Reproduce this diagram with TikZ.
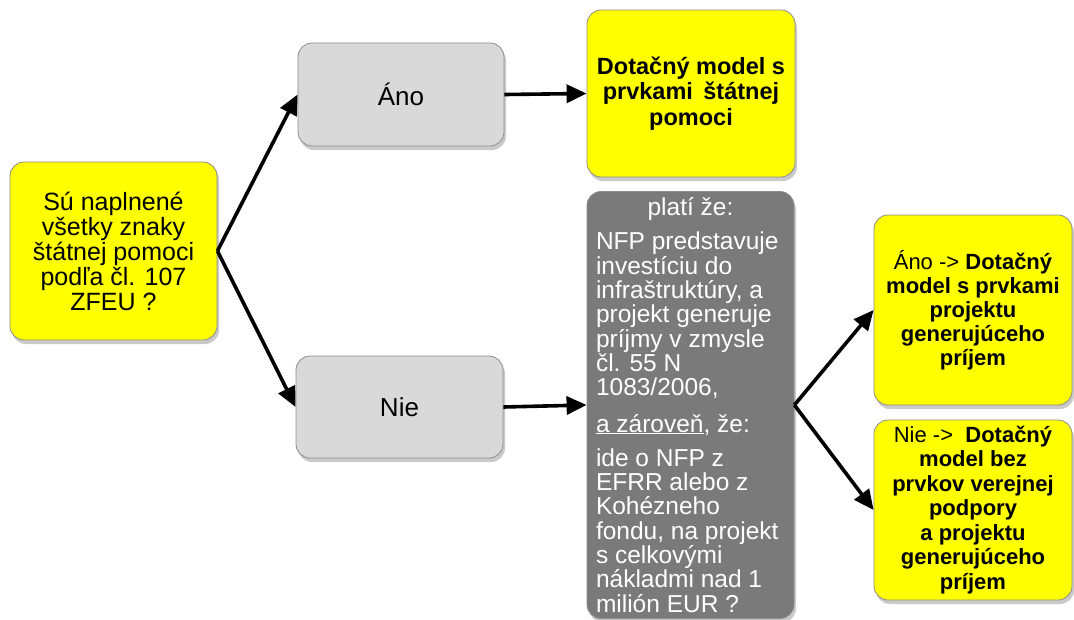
\documentclass[tikz,border=0pt]{standalone}
\usepackage{fontspec}
\setmainfont{Liberation Sans}
\usetikzlibrary{shadows,arrows.meta}
\definecolor{boxyellow}{HTML}{FFFF00}
\definecolor{boxlight}{HTML}{D9D9D9}
\definecolor{boxdark}{HTML}{7A7A7A}
\definecolor{boxedge}{HTML}{8C8C8C}
\begin{document}
\begin{tikzpicture}[x=1pt,y=-1pt,
  base/.style={draw=boxedge,line width=0.8pt,rounded corners=14pt,inner sep=2pt,
    align=center,font=\fontsize{22}{23}\selectfont,
    drop shadow={shadow xshift=2pt,shadow yshift=-4pt,opacity=0.35,fill=black!60}},
  yellowbox/.style={base,fill=boxyellow},
  lightbox/.style={base,fill=boxlight,font=\fontsize{26}{26}\selectfont},
  darkbox/.style={base,fill=boxdark,text=white,align=left},
  flow/.style={line width=3.6pt,-{Triangle[length=20pt,width=18pt]}}]
\useasboundingbox (0,0) rectangle (1074,619);

% question box
\node[yellowbox,minimum width=207pt,minimum height=178pt,
  font=\fontsize{25}{25}\selectfont] (q) at (113.5,251)
  {Sú naplnené\\všetky znaky\\štátnej pomoci\\podľa čl. 107\\ZFEU ?};

% answers
\node[lightbox,minimum width=206pt,minimum height=103pt] (ano) at (401,94.5) {Áno};
\node[lightbox,minimum width=207pt,minimum height=102pt] (nie) at (399.5,407) {Nie};

% outcome for yes
\node[yellowbox,minimum width=208pt,minimum height=167pt,
  font=\fontsize{23.5}{25.5}\selectfont\bfseries] (top) at (691,93.5)
  {Dotačný model s\\prvkami \,štátnej\\pomoci};

% conditions for no
\node[darkbox,minimum width=207pt,minimum height=427pt,inner sep=0pt,
  font=\fontsize{24.5}{24.3}\selectfont] (cond) at (690.5,405)
  {\makebox[189pt][c]{platí že:}\\[10pt]
   NFP predstavuje\\investíciu do\\infraštruktúry, a\\projekt generuje\\príjmy v zmysle\\čl. 55 N\\1083/2006,\\[12pt]
   \underline{a zároveň}, že:\\[10pt]
   ide o NFP z\\EFRR alebo z\\Kohézneho\\fondu, na projekt\\s celkovými\\nákladmi nad 1\\milión EUR ?};

% final outcomes
\node[yellowbox,minimum width=198pt,minimum height=190pt,
  font=\fontsize{22}{24}\selectfont] (r1) at (973,310)
  {Áno -> \textbf{Dotačný}\\\textbf{model s prvkami}\\\textbf{projektu}\\\textbf{generujúceho}\\\textbf{príjem}};
\node[yellowbox,minimum width=198pt,minimum height=180pt,inner sep=0pt,
  font=\fontsize{22}{24.5}\selectfont] (r2) at (973,510)
  {Nie -> \ \textbf{Dotačný}\\\textbf{model bez}\\\textbf{prvkov verejnej}\\\textbf{podpory}\\\textbf{a projektu}\\\textbf{generujúceho}\\\textbf{príjem}};

% connectors
\draw[flow] (q.east) -- (ano.west);
\draw[flow] (q.east) -- (nie.west);
\draw[flow] (ano.east) -- (top.west);
\draw[flow] (nie.east) -- (cond.west);
\draw[flow] (cond.east) -- (r1.west);
\draw[flow] (cond.east) -- (r2.west);
\end{tikzpicture}
\end{document}
